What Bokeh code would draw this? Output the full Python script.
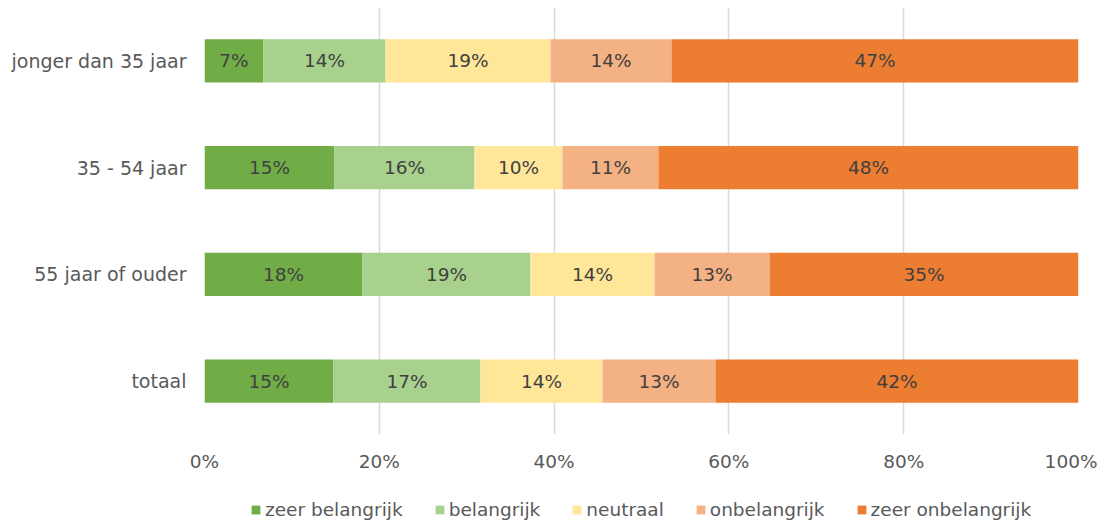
from bokeh.plotting import figure
from bokeh.layouts import column
from bokeh.models import (ColumnDataSource, FactorRange, FixedTicker, PrintfTickFormatter,
                          Legend)
from bokeh.core.properties import value
from bokeh.embed import file_html
from bokeh.resources import INLINE

categories = ["jonger dan 35 jaar", "35 - 54 jaar", "55 jaar of ouder", "totaal"]
series = ["zeer belangrijk", "belangrijk", "neutraal", "onbelangrijk", "zeer onbelangrijk"]
colors = ["#70AD47", "#A9D18E", "#FFE699", "#F4B183", "#ED7D31"]

zeer_belangrijk = [6.75, 14.87, 18.08, 14.76]
belangrijk = [13.96, 16.02, 19.22, 16.82]
neutraal = [18.88, 10.07, 14.19, 13.96]
onbelangrijk = [13.84, 10.98, 13.16, 12.93]
zeer_onbelangrijk = [46.57, 48.06, 35.35, 41.53]

x_ticks = [0, 20, 40, 60, 80, 100]

FONT = "DejaVu Sans"
values_list = [zeer_belangrijk, belangrijk, neutraal, onbelangrijk, zeer_onbelangrijk]
keys = ["s0", "s1", "s2", "s3", "s4"]

data = {"cat": categories}
for k, v in zip(keys, values_list):
    data[k] = v
source = ColumnDataSource(data)

p = figure(frame_width=874, frame_height=427, output_backend="svg", toolbar_location=None,
           y_range=FactorRange(factors=list(reversed(categories))),
           x_range=(0, 100),
           min_border_left=204, min_border_right=19, min_border_top=7, min_border_bottom=50)
p.outline_line_color = None
p.background_fill_color = "white"

renderers = p.hbar_stack(keys, y="cat", height=0.403, color=colors, source=source, line_color=None)

# data labels
cum = [0.0] * len(categories)
for v in values_list:
    mids = [c + x / 2 for c, x in zip(cum, v)]
    labels = [f"{round(x)}%" for x in v]
    cum = [c + x for c, x in zip(cum, v)]
    src = ColumnDataSource(dict(x=mids, y=categories, t=labels))
    p.text(x="x", y="y", text="t", source=src, text_align="center", text_baseline="middle",
           text_font=value(FONT), text_font_size="18.5px", text_color="#404040")

# axes
p.xaxis.ticker = FixedTicker(ticks=x_ticks)
p.xaxis.formatter = PrintfTickFormatter(format="%d%%")
for ax in (p.xaxis[0], p.yaxis[0]):
    ax.axis_line_color = None
    ax.major_tick_line_color = None
    ax.minor_tick_line_color = None
    ax.major_tick_out = 0
    ax.major_tick_in = 0
    ax.major_label_text_font = FONT
    ax.major_label_text_color = "#595959"
p.xaxis.major_label_text_font_size = "18.5px"
p.yaxis.major_label_text_font_size = "19px"
p.xaxis.major_label_standoff = 16
p.yaxis.major_label_standoff = 18

p.xgrid.ticker = FixedTicker(ticks=x_ticks)
p.xgrid.grid_line_color = "#D9D9D9"
p.xgrid.grid_line_width = 1.5
p.ygrid.grid_line_color = None

# legend row (separate strip below the chart; its frame is aligned with the chart's)
lg = figure(frame_width=874, frame_height=40, output_backend="svg", toolbar_location=None,
            x_range=(0, 1), y_range=(0, 1),
            min_border_left=204, min_border_right=19, min_border_top=0, min_border_bottom=0)
lg.axis.visible = False
lg.grid.visible = False
lg.outline_line_color = None
# legend proxies (kept outside the visible range; only their legend swatches show)
dummy = [lg.hbar(y=[-1], left=[0], right=[0], height=0.5, color=c, line_color=None)
         for c in colors]

legend = Legend(items=[(s, [r]) for s, r in zip(series, dummy)],
                orientation="horizontal", location=(46, 4))
legend.label_text_font = FONT
legend.label_text_font_size = "18.5px"
legend.label_text_color = "#595959"
legend.glyph_width = 11
legend.glyph_height = 11
legend.label_height = 18
legend.label_standoff = 4
legend.spacing = 31
legend.padding = 0
legend.margin = 0
legend.border_line_color = None
legend.background_fill_alpha = 0
lg.add_layout(legend, "center")

layout = column(p, lg, spacing=0)
open("out.html", "w").write(file_html(layout, INLINE))
